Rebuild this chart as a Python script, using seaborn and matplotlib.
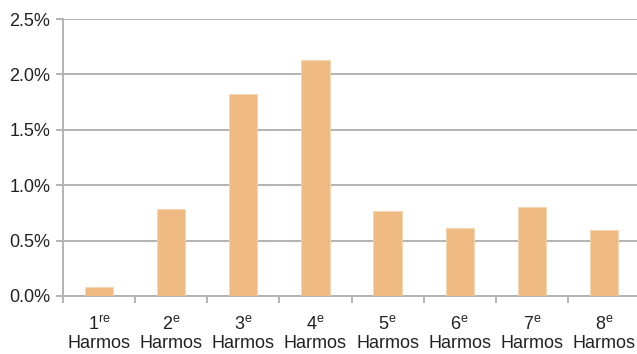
import matplotlib
matplotlib.use("Agg")
import matplotlib.pyplot as plt
import seaborn as sns
import pandas as pd
from matplotlib.ticker import FuncFormatter, MultipleLocator, FixedLocator

# Share per school year (Harmos levels), in percent
ordinals = ["1", "2", "3", "4", "5", "6", "7", "8"]
suffixes = ["re", "e", "e", "e", "e", "e", "e", "e"]
values = [0.085, 0.785, 1.82, 2.13, 0.77, 0.61, 0.80, 0.60]

labels = [f"{o}$^{{\\mathrm{{{s}}}}}$\nHarmos" for o, s in zip(ordinals, suffixes)]
df = pd.DataFrame({"niveau": labels, "part": values})

sns.set_theme(style="white")
plt.rcParams["font.family"] = ["Liberation Sans", "DejaVu Sans"]
plt.rcParams["mathtext.fontset"] = "custom"
plt.rcParams["mathtext.rm"] = "Liberation Sans"

grey = "#b3b3b6"
fig = plt.figure(figsize=(6.37, 3.54), dpi=100)
ax = fig.add_axes([63 / 637, 1 - 296 / 354, 577 / 637, (296 - 19) / 354])

sns.barplot(data=df, x="niveau", y="part", color="#efbb82", width=0.39,
            saturation=1, edgecolor="#f6d5b0", linewidth=0.6, ax=ax, zorder=3)

ax.set_ylim(0, 2.5)
ax.set_xlim(-0.5, len(values) - 0.5)
ax.yaxis.set_major_locator(MultipleLocator(0.5))
ax.yaxis.set_major_formatter(FuncFormatter(lambda v, _: f"{v:.1f}%"))
ax.grid(axis="y", color=grey, linewidth=1.4, zorder=0)
ax.set_axisbelow(True)

for side in ("top", "right"):
    ax.spines[side].set_visible(False)
for side in ("left", "bottom"):
    ax.spines[side].set_color(grey)
    ax.spines[side].set_linewidth(1.4)

ax.xaxis.set_minor_locator(FixedLocator([i - 0.5 for i in range(len(values) + 1)]))
ax.tick_params(axis="x", which="major", length=0, pad=14, labelsize=13, colors="#222222")
ax.tick_params(axis="x", which="minor", length=5, width=1.4, color=grey, bottom=True)
ax.tick_params(axis="y", which="major", length=5, width=1.4, color=grey, left=True,
               pad=4, labelsize=13, labelcolor="#222222")
for lab in ax.get_xticklabels():
    lab.set_linespacing(1.1)
ax.set_xlabel("")
ax.set_ylabel("")

fig.savefig("out.png", dpi=100)
